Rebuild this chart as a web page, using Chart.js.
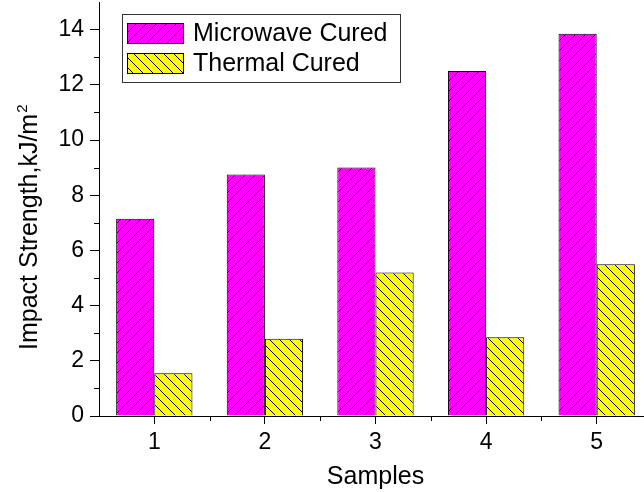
<!DOCTYPE html>
<html>
<head>
<meta charset="utf-8">
<script src="https://cdn.jsdelivr.net/npm/chart.js@4/dist/chart.umd.min.js"></script>
<style>
  html, body { margin: 0; padding: 0; background: #fff; overflow: hidden; }
  canvas { display: block; }
</style>
</head>
<body>
<canvas id="impactChart" width="652" height="492"></canvas>
<script>
const samples = ['1', '2', '3', '4', '5'];
const microwaveCured = [7.15, 8.75, 9.0, 12.5, 13.85];
const thermalCured = [1.55, 2.8, 5.2, 2.85, 5.5];
const seriesNames = ['Microwave Cured', 'Thermal Cured'];
const yTitle = 'Impact Strength,kJ/m';
const yTitleSup = '2';

const FONT = '"Liberation Sans", Arial, sans-serif';

// hatch fill, dir 1 = "/", -1 = "\"
function hatch(color, dir) {
  const size = 10;
  const c = document.createElement('canvas');
  c.width = size; c.height = size;
  const g = c.getContext('2d');
  g.fillStyle = color;
  g.fillRect(0, 0, size, size);
  g.strokeStyle = '#000';
  g.lineWidth = 1;
  g.beginPath();
  if (dir > 0) {
    g.moveTo(-1, size + 1); g.lineTo(size + 1, -1);
    g.moveTo(-1, 1); g.lineTo(1, -1);
    g.moveTo(size - 1, size + 1); g.lineTo(size + 1, size - 1);
  } else {
    g.moveTo(-1, -1); g.lineTo(size + 1, size + 1);
    g.moveTo(size - 1, -1); g.lineTo(size + 1, 1);
    g.moveTo(-1, size - 1); g.lineTo(1, size + 1);
  }
  g.stroke();
  return g.createPattern(c, 'repeat');
}

const ctx = document.getElementById('impactChart').getContext('2d');
const magentaFill = hatch('#ff00ff', 1);
const yellowFill = hatch('#ffff00', -1);

// minor ticks between the major ones
const minorTicks = {
  id: 'minorTicks',
  afterDraw(chart) {
    const { ctx, scales: { x, y } } = chart;
    ctx.save();
    ctx.strokeStyle = '#000';
    ctx.lineWidth = 1;
    ctx.beginPath();
    for (let v = 1; v < 15; v += 2) {
      const py = Math.round(y.getPixelForValue(v)) + 0.5;
      ctx.moveTo(x.left, py); ctx.lineTo(x.left - 5, py);
    }
    for (let i = 0; i < samples.length - 1; i++) {
      const px = Math.round((x.getPixelForValue(i) + x.getPixelForValue(i + 1)) / 2) + 0.5;
      ctx.moveTo(px, y.bottom); ctx.lineTo(px, y.bottom + 5);
    }
    ctx.stroke();
    ctx.restore();
  }
};

// y title with superscript
const yTitlePlugin = {
  id: 'yTitle',
  afterDraw(chart) {
    const ctx = chart.ctx;
    ctx.save();
    ctx.translate(37, 350);
    ctx.rotate(-Math.PI / 2);
    ctx.fillStyle = '#000';
    ctx.textBaseline = 'alphabetic';
    ctx.textAlign = 'left';
    ctx.font = '25px ' + FONT;
    ctx.fillText(yTitle, 0, 0);
    const w = ctx.measureText(yTitle).width;
    ctx.font = '15px ' + FONT;
    ctx.fillText(yTitleSup, w + 1, -10);
    ctx.restore();
  }
};

// boxed legend in the top-left corner
const boxLegend = {
  id: 'boxLegend',
  afterDraw(chart) {
    const ctx = chart.ctx;
    ctx.save();
    ctx.strokeStyle = '#333';
    ctx.lineWidth = 1;
    ctx.strokeRect(122.5, 14.5, 278, 68);
    ctx.font = '25px ' + FONT;
    ctx.textBaseline = 'middle';
    chart.data.datasets.forEach((ds, i) => {
      const top = 23 + i * 30;
      ctx.fillStyle = ds.backgroundColor;
      ctx.fillRect(127, top, 57, 21);
      ctx.strokeStyle = '#000';
      ctx.strokeRect(127.5, top + 0.5, 56, 20);
      ctx.fillStyle = '#000';
      ctx.fillText(ds.label, 193, top + 11);
    });
    ctx.restore();
  }
};

new Chart(ctx, {
  type: 'bar',
  data: {
    labels: samples,
    datasets: [
      {
        label: seriesNames[0],
        data: microwaveCured,
        backgroundColor: magentaFill,
        borderColor: '#000',
        borderWidth: 1,
      },
      {
        label: seriesNames[1],
        data: thermalCured,
        backgroundColor: yellowFill,
        borderColor: '#000',
        borderWidth: 1,
      },
    ],
  },
  options: {
    responsive: false,
    animation: false,
    devicePixelRatio: 1,
    layout: { padding: { top: 2, right: 0, left: 0, bottom: 0 } },
    datasets: { bar: { categoryPercentage: 0.69, barPercentage: 1.0 } },
    plugins: {
      legend: { display: false },
      tooltip: { enabled: false },
    },
    scales: {
      x: {
        grid: { drawOnChartArea: false, offset: false, tickLength: 8, color: '#000' },
        border: { color: '#000', width: 1 },
        ticks: { color: '#000', font: { family: FONT, size: 23 }, padding: 5 },
        title: {
          display: true, text: 'Samples', color: '#000',
          font: { family: FONT, size: 25 }, padding: { top: 2, bottom: 0 },
        },
        afterFit: s => { s.height = 76; s.paddingLeft = 0; s.paddingRight = 0; },
      },
      y: {
        min: 0,
        max: 15,
        grid: { drawOnChartArea: false, tickLength: 9, color: '#000' },
        border: { color: '#000', width: 1 },
        ticks: {
          stepSize: 2, includeBounds: false, color: '#000',
          font: { family: FONT, size: 23 }, padding: 6,
        },
        afterFit: s => { s.width = 99; s.paddingTop = 0; s.paddingBottom = 0; },
      },
    },
  },
  plugins: [minorTicks, yTitlePlugin, boxLegend],
});
</script>
</body>
</html>
